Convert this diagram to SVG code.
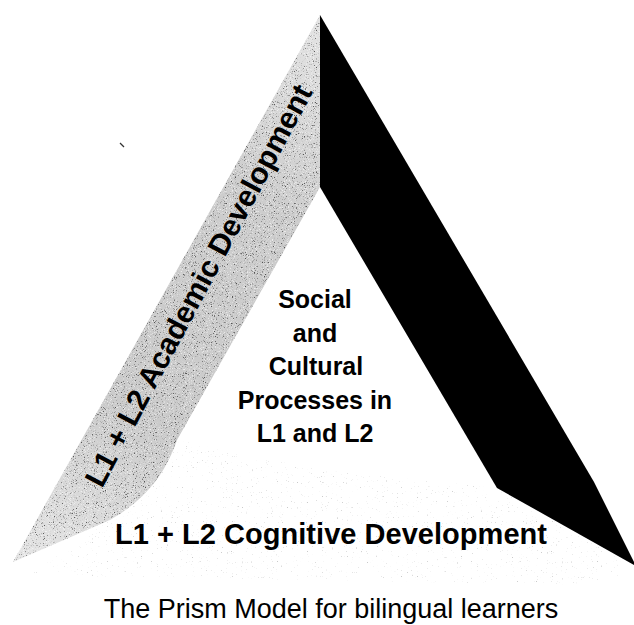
<svg xmlns="http://www.w3.org/2000/svg" width="634" height="625" viewBox="0 0 634 625">
  <style>
    .lbl { font-family: "Liberation Sans", Arial, sans-serif; font-weight: bold; fill: #000; }
    .mid { font-size: 25px; text-anchor: middle; }
    .cap { font-family: "Liberation Sans", Arial, sans-serif; font-weight: normal; font-size: 27px; fill: #000; }
  </style>
  <defs>
    <!-- stippled halftone grey for the academic face -->
    <linearGradient id="faceTone" x1="320" y1="15" x2="13" y2="562" gradientUnits="userSpaceOnUse">
      <stop offset="0" stop-color="#e4e4e4"/>
      <stop offset="0.3" stop-color="#cdcdcd"/>
      <stop offset="0.7" stop-color="#cbcbcb"/>
      <stop offset="1" stop-color="#e6e6e6"/>
    </linearGradient>
    <filter id="grain" x="0" y="0" width="100%" height="100%" filterUnits="objectBoundingBox">
      <feTurbulence type="fractalNoise" baseFrequency="0.9" numOctaves="2" seed="7" result="noise"/>
      <feColorMatrix in="noise" type="matrix" values="0 0 0 0 0  0 0 0 0 0  0 0 0 0 0  5 0 0 0 -3.0" result="dark"/>
      <feTurbulence type="fractalNoise" baseFrequency="0.95" numOctaves="2" seed="21" result="noise2"/>
      <feColorMatrix in="noise2" type="matrix" values="0 0 0 0 1  0 0 0 0 1  0 0 0 0 1  5 0 0 0 -2.8" result="light"/>
      <feMerge>
        <feMergeNode in="light"/>
        <feMergeNode in="dark"/>
      </feMerge>
    </filter>
    <!-- sparse specks across the base face -->
    <filter id="specks" x="0" y="0" width="100%" height="100%" filterUnits="objectBoundingBox">
      <feTurbulence type="fractalNoise" baseFrequency="0.8" numOctaves="1" seed="4" result="n"/>
      <feColorMatrix in="n" type="matrix" values="0 0 0 0 0.3  0 0 0 0 0.3  0 0 0 0 0.3  9 0 0 0 -6.2"/>
    </filter>
    <clipPath id="faceClip">
      <path d="M320,15 L13,562 L110,520 C145,500 165,475 177,440 L320,187 Z"/>
    </clipPath>
    <clipPath id="baseClip">
      <path d="M110,520 C145,500 165,475 177,440 L320,470 L497,488 L636,566 L600,585 L30,575 Z"/>
    </clipPath>
  </defs>

  <rect width="634" height="625" fill="#fff"/>

  <!-- base face texture -->
  <g clip-path="url(#baseClip)" opacity="0.5">
    <rect x="0" y="430" width="634" height="160" fill="#000" filter="url(#specks)"/>
  </g>

  <!-- left face: L1 + L2 academic development -->
  <g id="academic">
    <path d="M320,15 L13,562 L110,520 C145,500 165,475 177,440 L320,187 Z" fill="url(#faceTone)"/>
    <g clip-path="url(#faceClip)" opacity="0.6">
      <rect x="0" y="0" width="330" height="570" fill="#000" filter="url(#grain)"/>
    </g>
    <text class="lbl" font-size="30" transform="translate(102,489) rotate(-62)">L1 + L2 Academic Development</text>
  </g>

  <!-- right face: solid black -->
  <g id="rightFace">
    <path d="M320,15 L594,482 L636,566 L497,488 L320,187 Z" fill="#000"/>
  </g>

  <!-- centre: social and cultural processes -->
  <g id="social">
    <text class="lbl mid" x="315" y="308">Social</text>
    <text class="lbl mid" x="315" y="341.5">and</text>
    <text class="lbl mid" x="316" y="375">Cultural</text>
    <text class="lbl mid" x="315" y="408.5">Processes in</text>
    <text class="lbl mid" x="315" y="442">L1 and L2</text>
  </g>

  <!-- base: cognitive development -->
  <g id="cognitive">
    <text class="lbl" font-size="29" x="115" y="544" textLength="432" lengthAdjust="spacing">L1 + L2 Cognitive Development</text>
  </g>

  <!-- stray scan mark -->
  <line x1="120" y1="143" x2="124" y2="147" stroke="#333" stroke-width="1.2"/>

  <g id="caption">
    <text class="cap" x="331" y="618" text-anchor="middle">The Prism Model for bilingual learners</text>
  </g>
</svg>
